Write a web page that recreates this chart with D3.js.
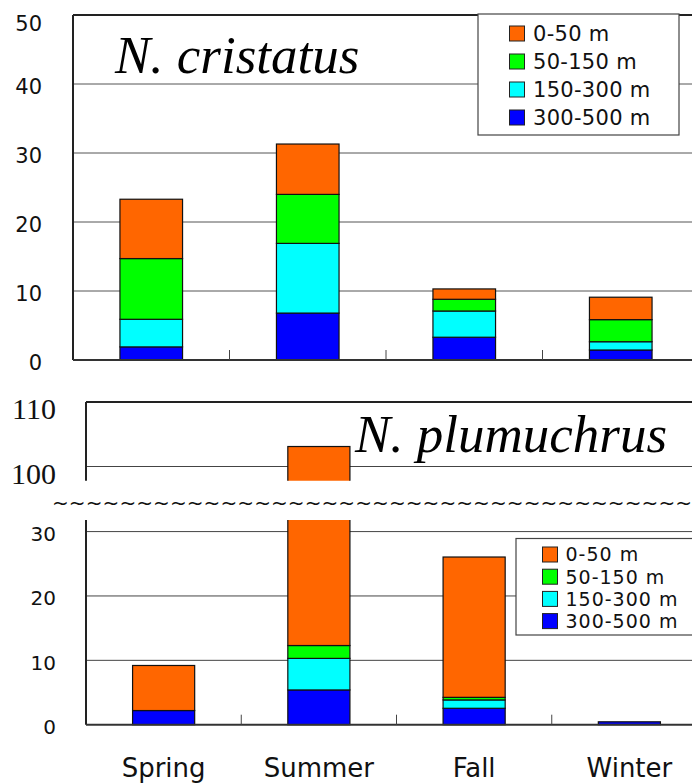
<!DOCTYPE html>
<html>
<head>
<meta charset="utf-8">
<script src="https://cdn.jsdelivr.net/npm/d3@7"></script>
<style>
  body { margin: 0; background: #fff; }
  svg { display: block; }
</style>
</head>
<body>
<div id="chart"></div>
<script>
// seasons and depth layers
var seasons = ["Spring", "Summer", "Fall", "Winter"];
var depths = ["0-50 m", "50-150 m", "150-300 m", "300-500 m"];
var depthColors = ["#ff6600", "#00ff00", "#00ffff", "#0000ff"];

// N. cristatus (per depth layer, one value per season)
var cristatus300_500 = [1.9, 6.8, 3.3, 1.45];
var cristatus150_300 = [4.0, 10.1, 3.8, 1.2];
var cristatus50_150 = [8.8, 7.1, 1.7, 3.2];
var cristatus0_50 = [8.6, 7.3, 1.5, 3.25];

// N. plumuchrus
var plumuchrus300_500 = [2.2, 5.4, 2.55, 0.45];
var plumuchrus150_300 = [0, 4.9, 1.3, 0];
var plumuchrus50_150 = [0, 2.0, 0.4, 0];
var plumuchrus0_50 = [7.0, 90.8, 21.8, 0];

var topTicks = [0, 10, 20, 30, 40, 50];
var lowTicks = [0, 10, 20, 30];
var highTicks = [100, 110];

var W = 692, H = 784;
var sans = "'DejaVu Sans', sans-serif";
var serif = "'Liberation Serif', 'Times New Roman', serif";

var svg = d3.select("#chart").append("svg")
    .attr("width", W)
    .attr("height", H);

// bottom-to-top order for stacking
var keys = ["300-500 m", "150-300 m", "50-150 m", "0-50 m"];
var color = d3.scaleOrdinal().domain(depths).range(depthColors);

function toRows(deep, mid, upper, surface) {
    return seasons.map(function (s, i) {
        return {season: s, "300-500 m": deep[i], "150-300 m": mid[i], "50-150 m": upper[i], "0-50 m": surface[i]};
    });
}
var stack = d3.stack().keys(keys);

// ---------- top chart: N. cristatus ----------
var x1 = d3.scaleBand().domain(seasons).range([73, 699]).paddingInner(0.6).paddingOuter(0.3);
var y1 = d3.scaleLinear().domain([0, 50]).range([360, 15]);

var topG = svg.append("g");

topG.selectAll(".grid").data([10, 20, 30, 40]).enter().append("line")
    .attr("x1", 73).attr("x2", W)
    .attr("y1", function (d) { return y1(d); }).attr("y2", function (d) { return y1(d); })
    .attr("stroke", "#555").attr("stroke-width", 1);

topG.append("line").attr("x1", 73).attr("x2", W).attr("y1", y1(50)).attr("y2", y1(50))
    .attr("stroke", "#222").attr("stroke-width", 2);
topG.append("line").attr("x1", 73).attr("x2", 73).attr("y1", y1(50)).attr("y2", y1(0))
    .attr("stroke", "#222").attr("stroke-width", 2);

var s1 = stack(toRows(cristatus300_500, cristatus150_300, cristatus50_150, cristatus0_50));
topG.selectAll(".layer").data(s1).enter().append("g")
    .attr("fill", function (d) { return color(d.key); })
    .selectAll("rect").data(function (d) { return d; }).enter().append("rect")
    .attr("x", function (d) { return x1(d.data.season); })
    .attr("width", x1.bandwidth())
    .attr("y", function (d) { return y1(d[1]); })
    .attr("height", function (d) { return y1(d[0]) - y1(d[1]); })
    .attr("stroke", "#111").attr("stroke-width", 1.2);

topG.append("line").attr("x1", 73).attr("x2", W).attr("y1", y1(0)).attr("y2", y1(0))
    .attr("stroke", "#333").attr("stroke-width", 2);

topG.selectAll(".ctick").data(seasons.slice(1)).enter().append("line")
    .attr("x1", function (d) { return x1(d) - x1.step() * 0.3; })
    .attr("x2", function (d) { return x1(d) - x1.step() * 0.3; })
    .attr("y1", y1(0) - 10).attr("y2", y1(0))
    .attr("stroke", "#444").attr("stroke-width", 1);

var ax1 = topG.append("g").attr("transform", "translate(73,0)")
    .call(d3.axisLeft(y1).tickValues(topTicks).tickSize(0).tickPadding(31));
ax1.select(".domain").remove();
ax1.selectAll("text")
    .attr("font-family", sans).attr("font-size", 21).attr("fill", "#111")
    .attr("dy", function (d) { return d === 50 ? "0.75em" : "0.45em"; });

topG.append("text")
    .attr("x", 115).attr("y", 73)
    .attr("font-family", serif).attr("font-style", "italic").attr("font-size", 53)
    .attr("fill", "#000")
    .text("N. cristatus");

function legend(g, x, y, w, h, swX, txX, row0, rowStep, fs, ls) {
    g.append("rect").attr("x", x).attr("y", y).attr("width", w).attr("height", h)
        .attr("fill", "#fff").attr("stroke", "#444").attr("stroke-width", 1.2);
    var it = g.selectAll(".item").data(depths).enter().append("g")
        .attr("transform", function (d, i) { return "translate(0," + (row0 + i * rowStep) + ")"; });
    it.append("rect").attr("x", swX).attr("y", -7.5).attr("width", 15).attr("height", 15)
        .attr("fill", function (d) { return color(d); })
        .attr("stroke", "#222").attr("stroke-width", 1);
    it.append("text").attr("x", txX).attr("y", 0).attr("dy", "0.36em")
        .attr("font-family", sans).attr("font-size", fs).attr("letter-spacing", ls)
        .attr("fill", "#111")
        .text(function (d) { return d; });
}
legend(topG, 478, 14, 201, 121, 509.5, 533, 33.5, 28, 21, 0.3);

// ---------- bottom chart: N. plumuchrus (broken axis) ----------
var x2 = d3.scaleBand().domain(seasons).range([86, 707]).paddingInner(0.6).paddingOuter(0.3);
var yLow = d3.scaleLinear().domain([0, 31.8]).range([724.7, 520]);
var yHigh = d3.scaleLinear().domain([97.8, 110]).range([480.7, 402]);

var bot = svg.append("g");
var defs = svg.append("defs");
defs.append("clipPath").attr("id", "clipHigh").append("rect")
    .attr("x", 0).attr("y", 401).attr("width", W).attr("height", 480.7 - 401);
defs.append("clipPath").attr("id", "clipLow").append("rect")
    .attr("x", 0).attr("y", 520).attr("width", W).attr("height", 730 - 520);

var s2 = stack(toRows(plumuchrus300_500, plumuchrus150_300, plumuchrus50_150, plumuchrus0_50));

function panel(y, ticks, grid, clipId, yTop, yBottom, labelFont, labelSize, labelShift, hasTopLine, hasBottomAxis) {
    var g = bot.append("g");
    g.selectAll(".grid").data(grid).enter().append("line")
        .attr("x1", 86).attr("x2", W)
        .attr("y1", function (d) { return y(d); }).attr("y2", function (d) { return y(d); })
        .attr("stroke", "#444").attr("stroke-width", 1);
    if (hasTopLine) {
        g.append("line").attr("x1", 86).attr("x2", W).attr("y1", yTop).attr("y2", yTop)
            .attr("stroke", "#222").attr("stroke-width", 2);
    }
    g.append("line").attr("x1", 86).attr("x2", 86).attr("y1", yTop).attr("y2", yBottom)
        .attr("stroke", "#222").attr("stroke-width", 2);

    g.append("g").attr("clip-path", "url(#" + clipId + ")")
        .selectAll(".layer").data(s2).enter().append("g")
        .attr("fill", function (d) { return color(d.key); })
        .selectAll("rect").data(function (d) { return d.filter(function (v) { return v[1] - v[0] > 0; }); })
        .enter().append("rect")
        .attr("x", function (d) { return x2(d.data.season); })
        .attr("width", x2.bandwidth())
        .attr("y", function (d) { return y(d[1]); })
        .attr("height", function (d) { return Math.max(0, y(d[0]) - y(d[1])); })
        .attr("stroke", "#111").attr("stroke-width", 1.2);

    if (hasBottomAxis) {
        g.append("line").attr("x1", 86).attr("x2", W).attr("y1", y(0)).attr("y2", y(0))
            .attr("stroke", "#333").attr("stroke-width", 2);
        g.selectAll(".ctick").data(seasons.slice(1)).enter().append("line")
            .attr("x1", function (d) { return x2(d) - x2.step() * 0.3; })
            .attr("x2", function (d) { return x2(d) - x2.step() * 0.3; })
            .attr("y1", y(0) - 10).attr("y2", y(0))
            .attr("stroke", "#444").attr("stroke-width", 1);
    }

    var ax = g.append("g").attr("transform", "translate(86,0)")
        .call(d3.axisLeft(y).tickValues(ticks).tickSize(0).tickPadding(30));
    ax.select(".domain").remove();
    ax.selectAll("text")
        .attr("font-family", labelFont).attr("font-size", labelSize).attr("fill", "#111")
        .attr("dy", labelShift);
    return g;
}

panel(yHigh, highTicks, [100], "clipHigh", 402, 480.7, serif, 30, "0.55em", true, false);
panel(yLow, lowTicks, [10, 20, 30], "clipLow", 520, 724.7, sans, 20, "0.45em", false, true);

// break mark
bot.append("text")
    .attr("x", 52).attr("y", 510)
    .attr("font-family", sans).attr("font-size", 20).attr("fill", "#111")
    .attr("textLength", 640).attr("lengthAdjust", "spacing")
    .text(d3.range(38).map(function () { return "~"; }).join(""));

bot.append("text")
    .attr("x", 355).attr("y", 452)
    .attr("font-family", serif).attr("font-style", "italic").attr("font-size", 53)
    .attr("fill", "#000")
    .text("N. plumuchrus");

legend(bot, 516, 538.5, 200, 96.5, 542.5, 565.5, 554.5, 22.2, 19, 1);

// season labels
bot.selectAll(".season").data(seasons).enter().append("text")
    .attr("x", function (d) { return x2(d) + x2.bandwidth() / 2; })
    .attr("y", 777)
    .attr("text-anchor", "middle")
    .attr("font-family", sans).attr("font-size", 26).attr("fill", "#111")
    .text(function (d) { return d; });
</script>
</body>
</html>
